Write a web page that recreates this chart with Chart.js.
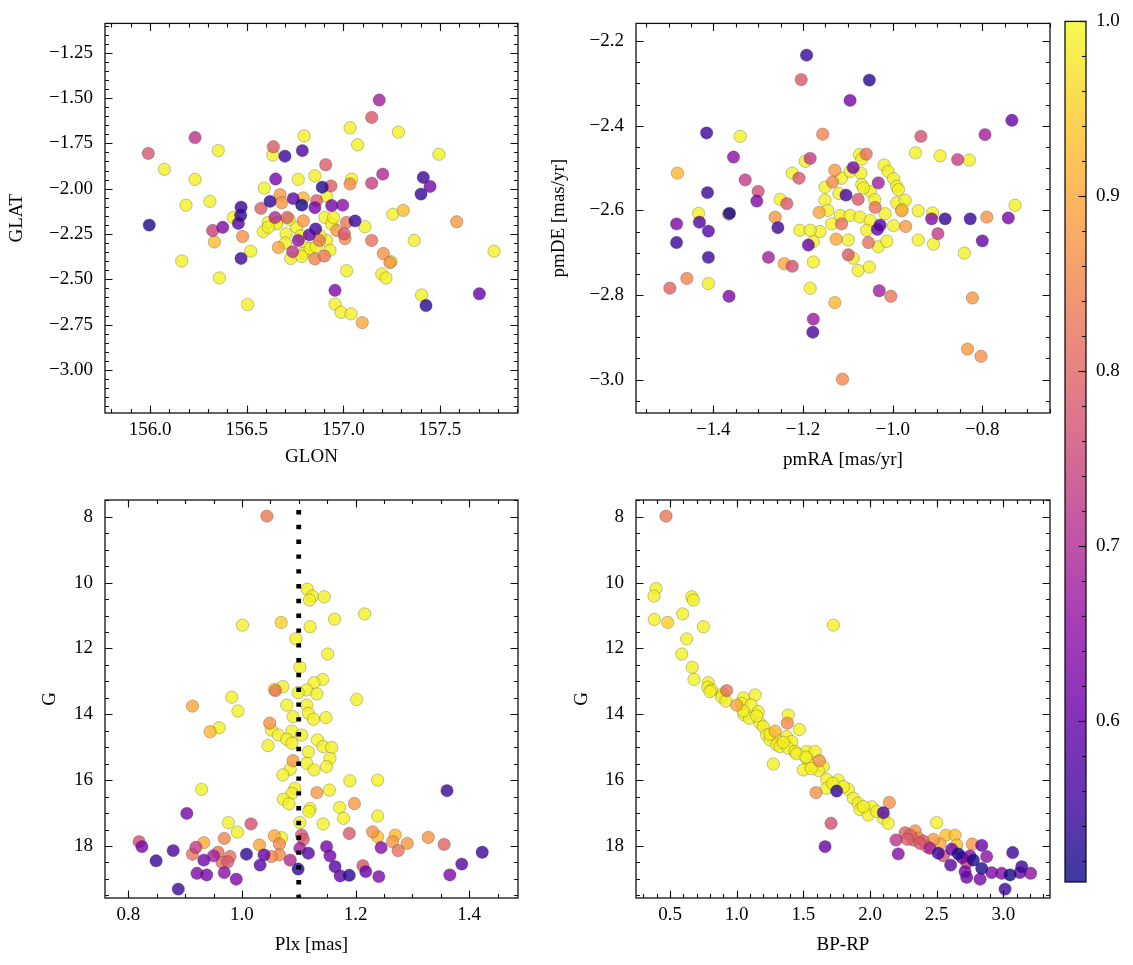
<!DOCTYPE html>
<html>
<head>
<meta charset="utf-8">
<script src="https://cdn.jsdelivr.net/npm/chart.js@4.4.1/dist/chart.umd.min.js"></script>
<style>
  html, body { margin: 0; padding: 0; background: #fff; }
  #fig { position: relative; width: 1133px; height: 965px; }
  #fig canvas { position: absolute; left: 0; top: 0; }
</style>
</head>
<body>
<div id="fig">
  <canvas id="sky" width="1133" height="965"></canvas>
  <canvas id="pm" width="1133" height="965"></canvas>
  <canvas id="plx" width="1133" height="965"></canvas>
  <canvas id="cmd" width="1133" height="965"></canvas>
  <canvas id="cbar" width="1133" height="965"></canvas>
</div>
<script>
// ---- data ----
// panel 1: galactic coordinates
const skyGlon = [
  157.186,157.147,157.035,157.285,156.797,156.233,155.991,156.353,156.638,156.635,
  156.698,156.788,157.074,157.495,156.909,156.074,156.233,156.650,156.767,156.853,
  157.043,157.035,157.204,157.147,157.414,157.449,157.402,156.591,156.891,156.936,
  156.673,156.621,156.741,156.785,156.853,156.940,156.997,156.862,156.914,156.310,
  156.186,156.471,156.574,157.256,157.310,157.587,155.996,157.061,157.112,156.469,
  156.457,156.376,156.324,156.333,156.479,156.164,156.521,156.471,156.359,156.505,
  156.664,156.738,156.728,156.811,156.853,156.902,157.017,157.147,157.009,157.005,
  157.017,157.207,157.247,157.241,157.199,157.221,157.367,157.780,156.957,156.957,
  156.988,157.040,157.098,157.405,157.428,157.704,156.767,156.824,156.857,156.876,
  156.586,156.704,156.647,156.710,156.793,156.966,156.914,156.931,156.793,156.612,
  156.655,156.681,156.793,156.431,156.655,156.612,156.759,156.905,156.940,156.828,
  156.785,156.720,156.780,156.880,156.700,156.950,156.860
];
const skyGlat = [
  -1.511,-1.607,-1.664,-1.688,-1.709,-1.718,-1.805,-1.790,-1.769,-1.814,
  -1.821,-1.790,-1.758,-1.810,-1.868,-1.893,-1.949,-1.947,-1.949,-1.929,
  -1.947,-1.974,-1.920,-1.970,-1.938,-1.988,-2.030,-1.997,-1.992,-1.985,
  -2.033,-2.070,-2.055,-2.091,-2.105,-2.093,-2.091,-2.066,-2.043,-2.070,
  -2.091,-2.102,-2.109,-2.141,-2.120,-2.183,-2.201,-2.178,-2.210,-2.147,
  -2.192,-2.213,-2.231,-2.294,-2.264,-2.399,-2.345,-2.385,-2.493,-2.640,
  -2.325,-2.348,-2.385,-2.327,-2.388,-2.372,-2.453,-2.286,-2.276,-2.249,
  -2.186,-2.358,-2.403,-2.408,-2.471,-2.493,-2.286,-2.345,-2.561,-2.637,
  -2.682,-2.691,-2.739,-2.587,-2.645,-2.580,-2.286,-2.255,-2.222,-2.286,
  -2.237,-2.249,-2.159,-2.159,-2.178,-2.231,-2.286,-2.340,-2.358,-2.186,
  -2.186,-2.078,-2.051,-2.159,-2.195,-2.213,-2.213,-2.159,-2.195,-2.331,
  -2.375,-2.170,-2.260,-2.260,-2.300,-2.160,-2.320
];
const skyProb = [
  0.68,0.78,0.99,0.99,0.99,0.72,0.78,0.99,0.79,0.99,
  0.55,0.57,0.99,0.99,0.79,0.99,0.99,0.62,0.99,0.99,
  0.99,0.86,0.70,0.74,0.55,0.62,0.54,0.99,0.53,0.79,
  0.88,0.54,0.60,0.51,0.62,0.62,0.65,0.79,0.99,0.99,
  0.99,0.54,0.79,0.99,0.93,0.88,0.52,0.55,0.99,0.54,
  0.58,0.63,0.74,0.93,0.87,0.99,0.99,0.55,0.99,0.99,
  0.90,0.72,0.99,0.99,0.85,0.83,0.99,0.82,0.86,0.78,
  0.83,0.87,0.99,0.87,0.99,0.99,0.99,0.99,0.63,0.99,
  0.99,0.99,0.90,0.99,0.53,0.60,0.65,0.60,0.56,0.83,
  0.99,0.99,0.70,0.79,0.88,0.88,0.99,0.99,0.99,0.99,
  0.99,0.88,0.92,0.99,0.99,0.99,0.99,0.99,0.99,0.99,
  0.99,0.99,0.99,0.99,0.99,0.99,0.99
];

// panel 2: proper motions
const pmRA = [
  -1.192,-1.204,-1.052,-1.095,-0.734,-1.415,-1.340,-1.156,-0.937,-0.794,
  -1.355,-1.184,-1.195,-1.059,-1.074,-1.069,-0.949,-0.894,-0.855,-0.829,
  -1.480,-1.329,-1.300,-1.303,-1.413,-1.251,-1.236,-1.224,-1.209,-1.129,
  -1.134,-1.151,-1.151,-1.114,-1.088,-1.095,-1.071,-1.069,-1.032,-1.019,
  -1.010,-0.998,-0.991,-0.987,-1.104,-1.077,-1.050,-0.991,-0.972,-0.943,
  -1.039,-0.980,-0.727,-1.433,-1.364,-1.366,-1.164,-1.482,-1.431,-1.411,
  -1.482,-1.411,-1.262,-1.256,-1.277,-1.242,-1.224,-1.459,-1.497,-1.411,
  -1.365,-1.207,-1.188,-1.177,-1.177,-1.184,-1.177,-1.178,-1.129,-1.112,
  -1.162,-1.136,-1.114,-1.126,-1.099,-1.099,-1.088,-1.077,-1.052,-1.054,
  -1.034,-1.028,-1.032,-1.013,-0.998,-1.030,-1.004,-0.971,-0.943,-0.909,
  -0.913,-0.899,-0.883,-0.840,-0.827,-0.790,-0.800,-0.742,-0.822,-0.833,
  -0.803,-0.911,-0.979,-1.065,-1.117,-1.095,-1.073,-1.050,-1.058,-1.017,
  -1.184,-1.145,-1.040,-1.120
];
const pmDE = [
  -2.233,-2.291,-2.292,-2.340,-2.387,-2.417,-2.425,-2.420,-2.425,-2.421,
  -2.474,-2.477,-2.484,-2.467,-2.468,-2.479,-2.464,-2.471,-2.480,-2.481,
  -2.512,-2.528,-2.555,-2.578,-2.558,-2.574,-2.584,-2.512,-2.524,-2.505,
  -2.533,-2.545,-2.576,-2.524,-2.499,-2.508,-2.512,-2.539,-2.535,-2.493,
  -2.508,-2.525,-2.543,-2.551,-2.564,-2.574,-2.555,-2.582,-2.576,-2.601,
  -2.593,-2.601,-2.588,-2.607,-2.607,-2.609,-2.605,-2.632,-2.628,-2.649,
  -2.676,-2.711,-2.616,-2.641,-2.711,-2.726,-2.732,-2.761,-2.784,-2.773,
  -2.803,-2.647,-2.682,-2.674,-2.722,-2.784,-2.857,-2.888,-2.818,-2.999,
  -2.650,-2.632,-2.632,-2.668,-2.670,-2.705,-2.713,-2.742,-2.734,-2.676,
  -2.645,-2.635,-2.686,-2.673,-2.636,-2.790,-2.803,-2.638,-2.670,-2.680,
  -2.620,-2.655,-2.620,-2.701,-2.620,-2.616,-2.672,-2.618,-2.807,-2.928,
  -2.945,-2.606,-2.598,-2.547,-2.612,-2.612,-2.616,-2.624,-2.647,-2.608,
  -2.647,-2.600,-2.575,-2.560
];
const pmProb = [
  0.55,0.78,0.53,0.62,0.60,0.55,0.99,0.85,0.77,0.68,
  0.65,0.73,0.99,0.82,0.99,0.99,0.99,0.99,0.74,0.99,
  0.92,0.73,0.76,0.63,0.55,0.99,0.78,0.99,0.78,0.88,
  0.86,0.99,0.99,0.99,0.62,0.99,0.99,0.99,0.68,0.99,
  0.99,0.99,0.99,0.99,0.56,0.78,0.99,0.99,0.99,0.99,
  0.82,0.90,0.99,0.99,0.51,0.87,0.90,0.63,0.58,0.58,
  0.55,0.55,0.88,0.55,0.68,0.90,0.77,0.85,0.80,0.99,
  0.63,0.99,0.60,0.99,0.99,0.99,0.67,0.57,0.92,0.86,
  0.99,0.99,0.82,0.90,0.99,0.78,0.99,0.99,0.99,0.82,
  0.60,0.58,0.99,0.99,0.99,0.68,0.83,0.88,0.99,0.99,
  0.64,0.73,0.54,0.99,0.54,0.87,0.60,0.62,0.88,0.88,
  0.87,0.99,0.99,0.99,0.99,0.99,0.99,0.99,0.99,0.99,
  0.99,0.99,0.99,0.99
];

// panel 3: parallax vs G
const plxVal = [
  1.044,1.115,1.124,1.119,1.145,1.216,1.163,1.001,1.069,1.120,
  1.095,1.151,1.102,1.142,1.127,1.072,1.059,1.057,1.114,1.132,
  1.099,0.982,1.202,0.913,0.993,0.944,0.960,1.049,1.079,1.114,
  1.117,1.090,1.126,1.148,1.052,1.064,1.088,1.079,1.105,1.133,
  1.046,1.088,1.117,1.143,1.158,1.155,1.090,1.114,1.085,1.127,
  1.149,1.072,1.190,1.239,1.093,1.154,1.132,0.929,1.361,1.088,
  1.073,1.083,1.120,1.172,1.198,1.118,1.179,1.239,1.143,1.102,
  0.903,0.976,0.992,1.016,0.969,0.933,0.819,0.824,0.849,0.879,
  0.888,0.913,0.919,0.933,0.950,0.958,0.979,0.975,0.921,0.938,
  0.969,0.990,1.008,1.032,1.039,1.031,1.057,1.070,1.066,1.066,
  1.052,1.085,1.105,1.108,1.102,1.099,1.117,1.149,1.155,1.164,
  1.173,1.189,1.189,1.218,1.213,1.230,1.239,1.245,1.241,1.270,
  1.265,1.275,1.291,1.328,1.356,1.366,1.387,1.423,0.965
];
const plxG = [
  7.98,10.20,10.41,10.53,10.43,10.95,11.11,11.29,11.21,11.34,
  11.71,12.17,12.57,12.94,13.04,13.16,13.28,13.24,13.26,13.38,
  13.34,13.48,13.55,13.75,13.90,14.53,14.41,14.27,13.72,13.72,
  13.97,14.07,14.15,14.10,14.48,14.63,14.51,14.76,14.63,14.78,
  14.95,14.88,15.14,14.98,15.01,15.34,15.41,15.49,15.67,15.69,
  15.59,15.84,16.02,16.00,16.25,16.30,16.38,16.28,16.32,16.40,
  16.58,16.72,16.86,16.83,16.71,16.95,17.16,17.09,17.33,17.29,
  17.01,17.29,17.58,17.33,17.77,17.90,17.87,18.02,18.45,18.14,
  19.31,18.25,18.04,18.43,18.30,18.19,18.32,18.48,18.83,18.88,
  18.81,19.01,18.25,18.58,18.27,17.97,17.69,17.75,17.94,18.27,
  18.32,18.43,17.67,17.80,18.07,18.70,18.22,18.02,18.30,18.63,
  18.91,18.89,17.62,18.78,18.60,17.57,17.72,18.05,18.93,17.67,
  17.87,18.14,17.92,17.74,17.95,18.88,18.55,18.19,18.50
];
const plxProb = [
  0.83,0.99,0.99,0.99,0.99,0.99,0.99,0.99,0.95,0.99,
  0.99,0.99,0.99,0.99,0.99,0.99,0.82,0.99,0.99,0.99,
  0.99,0.99,0.99,0.90,0.99,0.92,0.99,0.87,0.99,0.99,
  0.99,0.99,0.99,0.99,0.99,0.99,0.99,0.99,0.99,0.99,
  0.99,0.99,0.99,0.99,0.99,0.99,0.88,0.99,0.99,0.99,
  0.99,0.99,0.99,0.99,0.99,0.99,0.88,0.99,0.55,0.99,
  0.99,0.99,0.99,0.99,0.88,0.99,0.99,0.99,0.99,0.99,
  0.62,0.99,0.99,0.77,0.85,0.90,0.77,0.62,0.55,0.57,
  0.55,0.82,0.73,0.62,0.68,0.82,0.82,0.78,0.63,0.62,
  0.65,0.63,0.54,0.58,0.60,0.90,0.90,0.99,0.86,0.86,
  0.86,0.70,0.78,0.78,0.68,0.53,0.58,0.62,0.62,0.58,
  0.60,0.53,0.78,0.60,0.77,0.87,0.93,0.64,0.63,0.92,
  0.88,0.82,0.88,0.87,0.80,0.63,0.58,0.55,0.82
];
const plxRef = 1.1;   // dotted reference parallax

// panel 4: colour-magnitude diagram
const bpRp = [
  0.470,0.395,0.380,0.663,0.675,0.382,0.483,0.595,0.750,1.725,
  0.625,0.588,0.667,0.680,0.787,0.783,0.813,0.925,0.895,1.138,
  1.050,0.800,0.888,1.000,1.038,1.108,1.055,1.095,1.162,1.175,
  1.200,1.225,1.288,1.387,1.380,1.470,1.250,1.312,1.300,1.325,
  1.375,1.413,1.387,1.438,1.275,1.525,1.588,1.525,1.550,1.620,
  1.650,1.500,1.613,1.675,1.762,1.675,1.595,1.750,1.837,1.875,
  1.912,1.925,2.013,1.987,2.100,2.145,2.100,2.137,1.708,1.663,
  2.500,2.570,2.638,2.195,2.212,2.263,2.300,2.338,2.325,2.362,
  2.375,2.425,2.450,2.475,2.525,2.512,2.550,2.613,2.605,2.662,
  2.690,2.725,2.725,2.767,2.775,2.838,2.838,2.875,2.825,2.913,
  2.988,3.013,3.050,3.070,3.125,3.138,3.205,2.713,2.750,2.650,
  2.400,2.280,1.250,1.350,1.450,1.520,1.560,1.720,1.800,1.950,
  2.050,0.920,1.150,1.050
];
const cmdG = [
  7.98,10.18,10.41,10.43,10.53,11.12,11.21,10.95,11.34,11.29,
  11.71,12.17,12.57,12.94,13.04,13.18,13.26,13.28,13.38,13.41,
  13.50,13.31,13.48,13.72,13.67,13.72,14.02,14.12,13.92,14.27,
  14.38,14.63,14.51,14.02,14.27,14.46,14.78,14.78,14.93,14.98,
  14.68,14.83,15.03,15.13,15.51,15.13,15.13,15.34,15.55,15.41,
  15.59,15.69,15.71,15.98,16.00,16.25,16.38,16.33,16.28,16.55,
  16.70,16.89,16.81,17.06,16.99,16.68,17.16,17.31,17.31,18.02,
  17.29,17.67,17.67,17.82,18.24,17.60,17.67,17.54,17.82,17.76,
  17.92,18.02,18.07,17.80,17.94,18.22,18.30,18.10,18.58,18.24,
  18.35,18.52,18.95,17.94,18.43,17.98,18.68,18.32,19.01,18.81,
  18.83,19.31,18.88,18.20,18.81,18.63,18.83,18.78,18.30,17.97,
  17.85,17.80,14.60,14.85,15.20,15.30,15.65,16.10,16.20,16.80,
  16.95,13.60,14.05,13.90
];
const cmdProb = [
  0.83,0.99,0.99,0.99,0.99,0.99,0.95,0.99,0.99,0.99,
  0.99,0.99,0.99,0.99,0.99,0.99,0.99,0.82,0.99,0.99,
  0.99,0.99,0.99,0.90,0.99,0.99,0.99,0.99,0.99,0.99,
  0.99,0.99,0.92,0.99,0.86,0.99,0.99,0.99,0.99,0.99,
  0.99,0.99,0.99,0.99,0.99,0.99,0.99,0.99,0.99,0.87,
  0.99,0.99,0.99,0.99,0.99,0.99,0.87,0.54,0.99,0.99,
  0.99,0.99,0.99,0.99,0.57,0.87,0.99,0.99,0.77,0.60,
  0.99,0.93,0.93,0.72,0.64,0.80,0.80,0.87,0.82,0.86,
  0.78,0.85,0.68,0.88,0.90,0.55,0.77,0.60,0.58,0.52,
  0.62,0.74,0.60,0.88,0.52,0.60,0.52,0.65,0.62,0.63,
  0.64,0.55,0.51,0.55,0.60,0.55,0.65,0.62,0.65,0.93,
  0.79,0.79,0.99,0.99,0.99,0.99,0.99,0.99,0.99,0.99,
  0.99,0.99,0.99,0.99
];

// tick labels
const glonTicks = [156.0, 156.5, 157.0, 157.5];
const glatTicks = [-1.25, -1.50, -1.75, -2.00, -2.25, -2.50, -2.75, -3.00];
const pmraTicks = [-1.4, -1.2, -1.0, -0.8];
const pmdeTicks = [-2.2, -2.4, -2.6, -2.8, -3.0];
const plxTicks = [0.8, 1.0, 1.2, 1.4];
const gTicks = [8, 10, 12, 14, 16, 18];
const colorTicks = [0.5, 1.0, 1.5, 2.0, 2.5, 3.0];
const probTicks = [0.6, 0.7, 0.8, 0.9, 1.0];

// colour scale limits
const PROB_MIN = 0.508, PROB_MAX = 1.0;

// ---- helpers ----
const FIG_W = 1133, FIG_H = 965;
const FONT = { family: 'Liberation Serif', size: 19 };
const PLASMA = ['#0d0887', '#41049d', '#6a00a8', '#8f0da4', '#b12a90', '#cc4778',
                '#e16462', '#f2844b', '#fca636', '#fcce25', '#f0f921'];

const hexRGB = h => [1, 3, 5].map(i => parseInt(h.slice(i, i + 2), 16));
function plasma(t, alpha) {
  t = Math.min(1, Math.max(0, t));
  const f = t * 10, i = Math.min(9, Math.floor(f)), u = f - i;
  const a = hexRGB(PLASMA[i]), b = hexRGB(PLASMA[i + 1]);
  const c = a.map((v, k) => Math.round(v + (b[k] - v) * u));
  return `rgba(${c[0]},${c[1]},${c[2]},${alpha})`;
}
const probColor = p => plasma((p - PROB_MIN) / (PROB_MAX - PROB_MIN), 0.8);

const fmt = dec => v => (v < 0 ? '\u2212' : '') + Math.abs(v).toFixed(dec);

// minor tick positions between lo and hi
function steps(lo, hi, step) {
  const out = [];
  for (let k = Math.ceil(lo / step - 1e-6); k * step <= hi + 1e-9; k++) out.push(+(k * step).toFixed(4));
  return out;
}

// matplotlib-like frame with inward major/minor ticks
const frameTicks = {
  id: 'frameTicks',
  afterDraw(chart, args, opts) {
    const { ctx, chartArea: a, scales } = chart;
    ctx.save();
    ctx.strokeStyle = '#111';
    ctx.lineWidth = 1.1;
    for (const axis of ['x', 'y']) {
      const spec = opts[axis];
      if (!spec) continue;
      const sc = scales[axis];
      const lo = Math.min(sc.min, sc.max), hi = Math.max(sc.min, sc.max);
      const sides = spec.sides || (axis === 'x' ? ['bottom', 'top'] : ['left', 'right']);
      for (const [vals, len] of [[spec.minor, 4], [spec.major, 7.5]]) {
        for (const v of vals) {
          if (v < lo - 1e-9 || v > hi + 1e-9) continue;
          const p = Math.round(sc.getPixelForValue(v)) + 0.5;
          ctx.beginPath();
          for (const s of sides) {
            if (s === 'bottom') { ctx.moveTo(p, a.bottom); ctx.lineTo(p, a.bottom - len); }
            if (s === 'top') { ctx.moveTo(p, a.top); ctx.lineTo(p, a.top + len); }
            if (s === 'left') { ctx.moveTo(a.left, p); ctx.lineTo(a.left + len, p); }
            if (s === 'right') { ctx.moveTo(a.right, p); ctx.lineTo(a.right - len, p); }
          }
          ctx.stroke();
        }
      }
    }
    ctx.lineWidth = 1.3;
    ctx.strokeRect(a.left, a.top, a.right - a.left, a.bottom - a.top);
    ctx.restore();
  }
};

function axisOpts(o) {
  return {
    type: 'linear', min: o.range[0], max: o.range[1], reverse: !!o.reverse,
    position: o.position,
    grid: { display: false, drawTicks: false },
    border: { display: false },
    ticks: { font: FONT, color: '#000', padding: o.pad, callback: o.fmt, maxRotation: 0, autoSkip: false },
    afterBuildTicks: s => { s.ticks = o.ticks.map(v => ({ value: v })); },
    afterFit: s => { if (o.size) { if (s.isHorizontal()) s.height = o.size; else s.width = o.size; } },
    title: { display: !!o.title, text: o.title, font: FONT, color: '#000', padding: 0 }
  };
}

function scatterPanel(id, o) {
  const idx = o.prob.map((_, i) => i).sort((a, b) => o.prob[b] - o.prob[a]);
  const datasets = (o.extra || []).concat([{
    data: idx.map(i => ({ x: o.xs[i], y: o.ys[i] })),
    pointRadius: 6.2,
    pointHoverRadius: 6.2,
    pointBackgroundColor: idx.map(i => probColor(o.prob[i])),
    pointBorderColor: 'rgba(40,40,40,0.45)',
    pointBorderWidth: 0.6
  }]);
  const a = o.area;
  return new Chart(document.getElementById(id), {
    type: 'scatter',
    data: { datasets },
    options: {
      responsive: false, animation: false, devicePixelRatio: 1,
      layout: { padding: { left: a.left - o.x.yw, top: a.top, right: FIG_W - a.right, bottom: FIG_H - a.bottom - o.x.xh } },
      scales: {
        x: axisOpts({ range: o.x.range, ticks: o.x.ticks, fmt: o.x.fmt, pad: 6, size: o.x.xh, title: o.x.title }),
        y: axisOpts({ range: o.y.range, ticks: o.y.ticks, fmt: o.y.fmt, pad: 12, size: o.x.yw, title: o.y.title, reverse: o.y.reverse })
      },
      plugins: {
        legend: { display: false }, tooltip: { enabled: false },
        frameTicks: { x: { major: o.x.ticks, minor: o.x.minor }, y: { major: o.y.ticks, minor: o.y.minor } }
      }
    },
    plugins: [frameTicks]
  });
}

const G_RANGE = [7.49, 19.58];

scatterPanel('sky', {
  xs: skyGlon, ys: skyGlat, prob: skyProb,
  area: { left: 105, top: 15, right: 518, bottom: 413 },
  x: { range: [155.767, 157.904], ticks: glonTicks, minor: steps(155.8, 157.9, 0.1), fmt: fmt(1), title: 'GLON', xh: 55, yw: 99 },
  y: { range: [-3.238, -1.088], ticks: glatTicks, minor: steps(-3.2, -1.1, 0.05), fmt: fmt(2), title: 'GLAT' }
});

scatterPanel('pm', {
  xs: pmRA, ys: pmDE, prob: pmProb,
  area: { left: 636, top: 15, right: 1050, bottom: 413 },
  x: { range: [-1.5725, -0.649], ticks: pmraTicks, minor: steps(-1.55, -0.65, 0.05), fmt: fmt(1), title: 'pmRA [mas/yr]', xh: 58.4, yw: 88 },
  y: { range: [-3.079, -2.158], ticks: pmdeTicks, minor: steps(-3.05, -2.2, 0.05), fmt: fmt(1), title: 'pmDE [mas/yr]' }
});

scatterPanel('plx', {
  xs: plxVal, ys: plxG, prob: plxProb,
  area: { left: 105, top: 500, right: 518, bottom: 898 },
  x: { range: [0.759, 1.486], ticks: plxTicks, minor: steps(0.8, 1.45, 0.05), fmt: fmt(1), title: 'Plx [mas]', xh: 58, yw: 66 },
  y: { range: G_RANGE, ticks: gTicks, minor: steps(7.5, 19.5, 0.5), fmt: fmt(0), title: 'G', reverse: true },
  extra: [{
    type: 'line', showLine: true,
    data: [{ x: plxRef, y: G_RANGE[0] }, { x: plxRef, y: G_RANGE[1] }],
    borderColor: '#000', borderWidth: 4.8, borderDash: [4.4, 10.4], borderDashOffset: 4.8,
    borderCapStyle: 'butt', pointRadius: 0, fill: false
  }]
});

scatterPanel('cmd', {
  xs: bpRp, ys: cmdG, prob: cmdProb,
  area: { left: 636, top: 500, right: 1050, bottom: 898 },
  x: { range: [0.245, 3.35], ticks: colorTicks, minor: steps(0.3, 3.3, 0.1), fmt: fmt(1), title: 'BP-RP', xh: 58.4, yw: 65 },
  y: { range: G_RANGE, ticks: gTicks, minor: steps(7.5, 19.5, 0.5), fmt: fmt(0), title: 'G', reverse: true }
});

// colour bar: gradient filled through the bar's own probability scale
const colorbarFill = {
  id: 'colorbarFill',
  beforeDatasetsDraw(chart) {
    const { ctx, chartArea: a, scales: { y } } = chart;
    const g = ctx.createLinearGradient(0, y.getPixelForValue(PROB_MIN), 0, y.getPixelForValue(PROB_MAX));
    for (let i = 0; i <= 40; i++) g.addColorStop(i / 40, plasma(i / 40, 0.8));
    ctx.save();
    ctx.fillStyle = g;
    ctx.fillRect(a.left, a.top, a.right - a.left, a.bottom - a.top);
    ctx.restore();
  }
};

new Chart(document.getElementById('cbar'), {
  type: 'scatter',
  data: { datasets: [] },
  options: {
    responsive: false, animation: false, devicePixelRatio: 1,
    layout: { padding: { left: 1065, top: 15, right: 0, bottom: FIG_H - 882 } },
    scales: {
      x: { display: false, min: 0, max: 1 },
      y: axisOpts({ range: [PROB_MIN, PROB_MAX], ticks: probTicks, fmt: fmt(1), pad: 10, size: FIG_W - 1086, position: 'right' })
    },
    plugins: {
      legend: { display: false }, tooltip: { enabled: false },
      frameTicks: { y: { major: probTicks, minor: steps(0.52, 1.0, 0.02), sides: ['right'] } }
    }
  },
  plugins: [colorbarFill, frameTicks]
});
</script>
</body>
</html>
